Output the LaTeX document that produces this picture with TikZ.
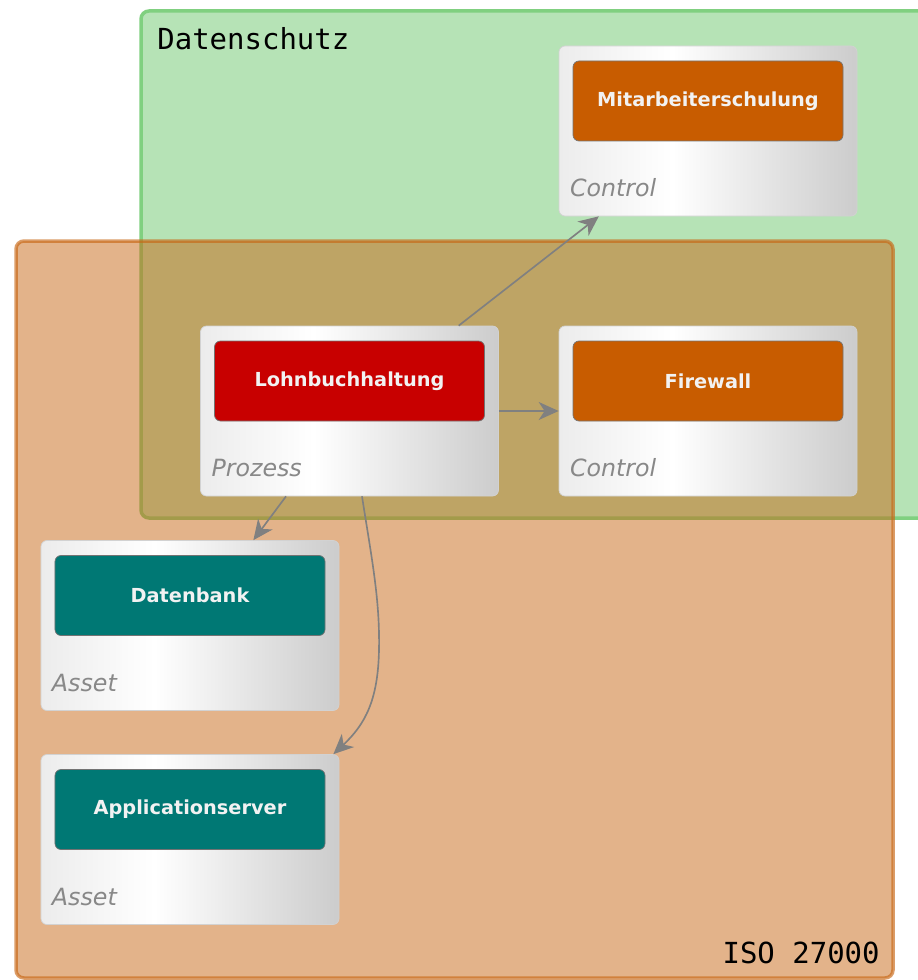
\documentclass[tikz,border=0pt]{standalone}
\usepackage{fontspec}
\setmainfont{DejaVu Sans}
\newfontfamily\grpfont{DejaVu Sans Mono}
\usepackage{tikz}
\usetikzlibrary{arrows.meta, positioning}
\definecolor{mRed}{HTML}{C80000}
\definecolor{mOrange}{HTML}{C85C00}
\definecolor{mTeal}{HTML}{007874}
\definecolor{mGreen}{HTML}{B6E3B6}
\definecolor{mGreenLine}{HTML}{80D080}
\definecolor{mRust}{HTML}{C76715}
\definecolor{mGray}{HTML}{808080}
\definecolor{mLabel}{HTML}{888888}
\pgfdeclarehorizontalshading{boxshade}{100bp}{color(0bp)=(gray!15); color(25bp)=(gray!15);
  color(44bp)=(white); color(75bp)=(gray!40); color(100bp)=(gray!40)}

\begin{document}
\begin{tikzpicture}[x=0.2mm, y=-0.2mm,
      outer/.style={draw=gray!35, rounded corners=1.2mm, minimum width=59.6mm, minimum height=34mm,
        shade, shading=boxshade},
      inner/.style={draw=black!55, rounded corners=1.2mm, minimum width=54mm, minimum height=16mm,
        text=gray!10, font=\bfseries\fontsize{11}{13}\selectfont},
      lab/.style={text=mLabel, font=\itshape\fontsize{13.5}{16}\selectfont, inner sep=0pt},
      grp/.style={font=\grpfont\fontsize{16.5}{19}\selectfont, inner sep=0pt},
      arr/.style={draw=mGray, line width=0.33mm, -{Stealth[length=4mm, width=3.6mm, inset=1.2mm]}}]
    \clip (0,0) rectangle (918,980);
    \draw[fill=mGreen, draw=mGreenLine, line width=0.7mm, rounded corners=1.6mm] (141,11) rectangle (960,518);
    \node[grp, anchor=base west] (dslab) at (157,50) {Datenschutz};
    \draw[fill=mRust, fill opacity=0.5, draw=mRust, draw opacity=0.65, line width=0.7mm, rounded corners=1.6mm] (16,241) rectangle (893,978);
    \node[grp, anchor=base east] (isolab) at (880,963) {ISO 27000};

    \node[outer] (mitbox)  at (708,131)   {};
    \node[outer] (lohnbox) at (349.5,411) {};
    \node[outer] (firebox) at (708,411)   {};
    \node[outer] (dbbox)   at (190,625.5) {};
    \node[outer] (appbox)  at (190,839.5) {};

    \node[inner, fill=mOrange, below=3mm of mitbox.north]  (mit)  {Mitarbeiterschulung};
    \node[inner, fill=mRed,    below=3mm of lohnbox.north] (lohn) {Lohnbuchhaltung};
    \node[inner, fill=mOrange, below=3mm of firebox.north] (fire) {Firewall};
    \node[inner, fill=mTeal,   below=3mm of dbbox.north]   (db)   {Datenbank};
    \node[inner, fill=mTeal,   below=3mm of appbox.north]  (app)  {Applicationserver};

    \node[lab, above right=3.8mm and 2.2mm of mitbox.south west]  (mitlab)  {Control};
    \node[lab, above right=3.8mm and 2.2mm of lohnbox.south west] (lohnlab) {Prozess};
    \node[lab, above right=3.8mm and 2.2mm of firebox.south west] (firelab) {Control};
    \node[lab, above right=3.8mm and 2.2mm of dbbox.south west]   (dblab)   {Asset};
    \node[lab, above right=3.8mm and 2.2mm of appbox.south west]  (applab)  {Asset};

    \coordinate (bend) at (379,650);
    \draw[arr] (lohnbox) -- (mitbox); \draw[arr] (lohnbox) -- (firebox); \draw[arr] (lohnbox) -- (dbbox);
    \draw[arr] ([xshift=2.5mm]lohnbox.south) .. controls +(10,64) and +(1,-50) .. (bend)
      .. controls +(-1,50) and +(32,-30) .. ([xshift=-1.2mm]appbox.north east);
  \end{tikzpicture}
\end{document}
